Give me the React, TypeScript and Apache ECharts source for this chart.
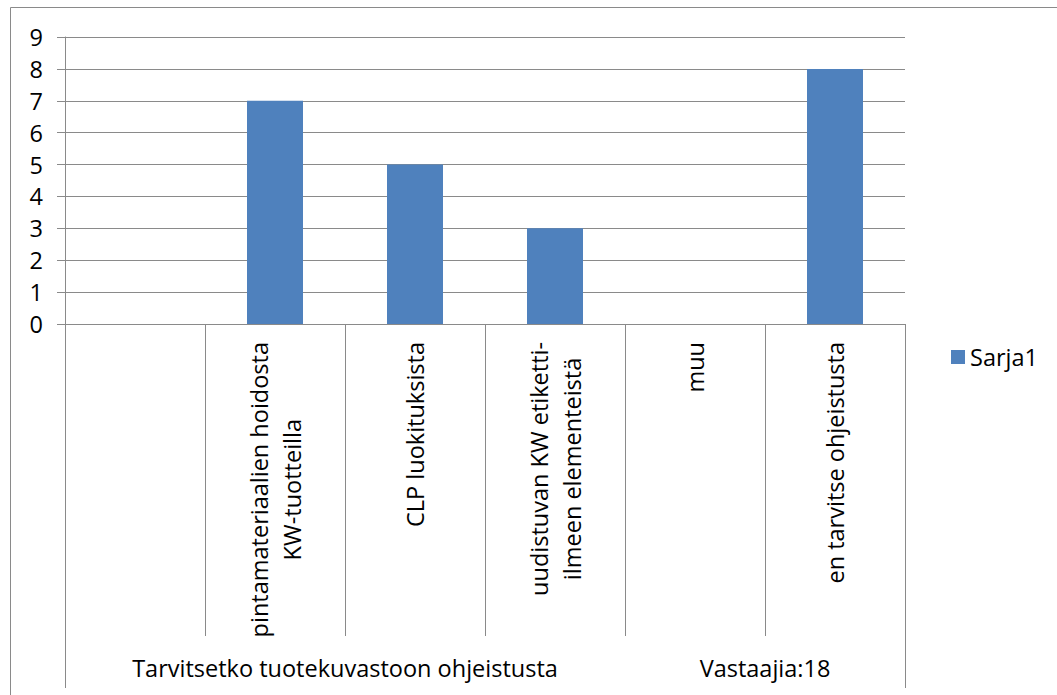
import React, { useEffect, useRef } from "react";
import * as echarts from "echarts";

const categories: string[] = [
  "",
  "pintamateriaalien hoidosta\nKW-tuotteilla",
  "CLP luokituksista",
  "uudistuvan KW etiketti-\nilmeen elementeistä",
  "muu",
  "en tarvitse ohjeistusta",
];
const values: number[] = [0, 7, 5, 3, 0, 8];
const seriesName = "Sarja1";
const groupLabels: string[] = ["Tarvitsetko tuotekuvastoon ohjeistusta", "Vastaajia:18"];
const groupSpans: number[] = [4, 2];
const yTicks: number[] = [0, 1, 2, 3, 4, 5, 6, 7, 8, 9];

const FONT = "'Open Sans', 'Noto Sans', sans-serif";
const FS = 23.5;
const GRAY = "#8a8a8a";

export default function App() {
  const ref = useRef<HTMLDivElement>(null);
  useEffect(() => {
    if (!ref.current) return;
    const chart = echarts.init(ref.current, null, { renderer: "svg" });

    const centers: number[] = [];
    const bounds: number[] = [0];
    let acc = 0;
    groupSpans.forEach((s) => {
      centers.push(acc + s / 2);
      acc += s;
      bounds.push(acc);
    });

    chart.setOption({
      animation: false,
      textStyle: { fontFamily: FONT, color: "#000" },
      graphic: [
        {
          type: "rect",
          shape: { x: 10.5, y: 7.5, width: 1200, height: 800 },
          style: { fill: "none", stroke: GRAY, lineWidth: 1 },
          silent: true,
        },
      ],
      legend: {
        show: true,
        left: 946,
        top: 340,
        icon: "rect",
        itemWidth: 14,
        itemHeight: 14,
        textStyle: { fontFamily: FONT, fontSize: FS, color: "#000" },
        data: [seriesName],
      },
      grid: { left: 65, right: 152, top: 37, bottom: 371, containLabel: false },
      xAxis: [
        {
          type: "category",
          data: categories,
          position: "bottom",
          axisLine: { show: true, lineStyle: { color: GRAY, width: 1 } },
          axisTick: {
            show: true,
            interval: 0,
            length: 312,
            alignWithLabel: false,
            lineStyle: { color: GRAY, width: 1 },
          },
          axisLabel: {
            interval: 0,
            rotate: 90,
            margin: 18,
            fontFamily: FONT,
            fontSize: FS,
            lineHeight: 33,
            color: "#000",
            formatter: (v: string) =>
              v
                .split("\n")
                .map((l, i) => (i === 0 ? l : `{c|${l}}`))
                .join("\n"),
            rich: {
              c: { align: "center", fontFamily: FONT, fontSize: FS, lineHeight: 33, color: "#000" },
            },
          },
          splitLine: { show: false },
        },
        {
          type: "value",
          position: "bottom",
          offset: 312,
          min: 0,
          max: categories.length,
          axisLine: { show: false },
          axisTick: {
            show: true,
            customValues: [bounds[0], bounds[bounds.length - 1]],
            length: 52,
            lineStyle: { color: GRAY, width: 1 },
          },
          axisLabel: {
            customValues: centers,
            margin: 20,
            fontFamily: FONT,
            fontSize: FS,
            color: "#000",
            formatter: (val: number) => {
              const i = centers.indexOf(val);
              return i >= 0 ? groupLabels[i] : "";
            },
          },
          splitLine: { show: false },
        },
      ],
      yAxis: {
        type: "value",
        min: yTicks[0],
        max: yTicks[yTicks.length - 1],
        interval: 1,
        axisLine: { show: true, lineStyle: { color: GRAY, width: 1 } },
        axisTick: { show: true, length: 8, lineStyle: { color: GRAY, width: 1 } },
        axisLabel: { margin: 22, fontFamily: FONT, fontSize: FS, color: "#000" },
        splitLine: { show: true, lineStyle: { color: GRAY, width: 1 } },
      },
      series: [
        {
          name: seriesName,
          type: "bar",
          xAxisIndex: 0,
          data: values,
          barWidth: 56,
          itemStyle: { color: "#4f81bd" },
        },
      ],
    });
    return () => chart.dispose();
  }, []);
  return (
    <div
      ref={ref}
      style={{ position: "absolute", left: 0, top: 0, width: 1057, height: 695 }}
    />
  );
}
